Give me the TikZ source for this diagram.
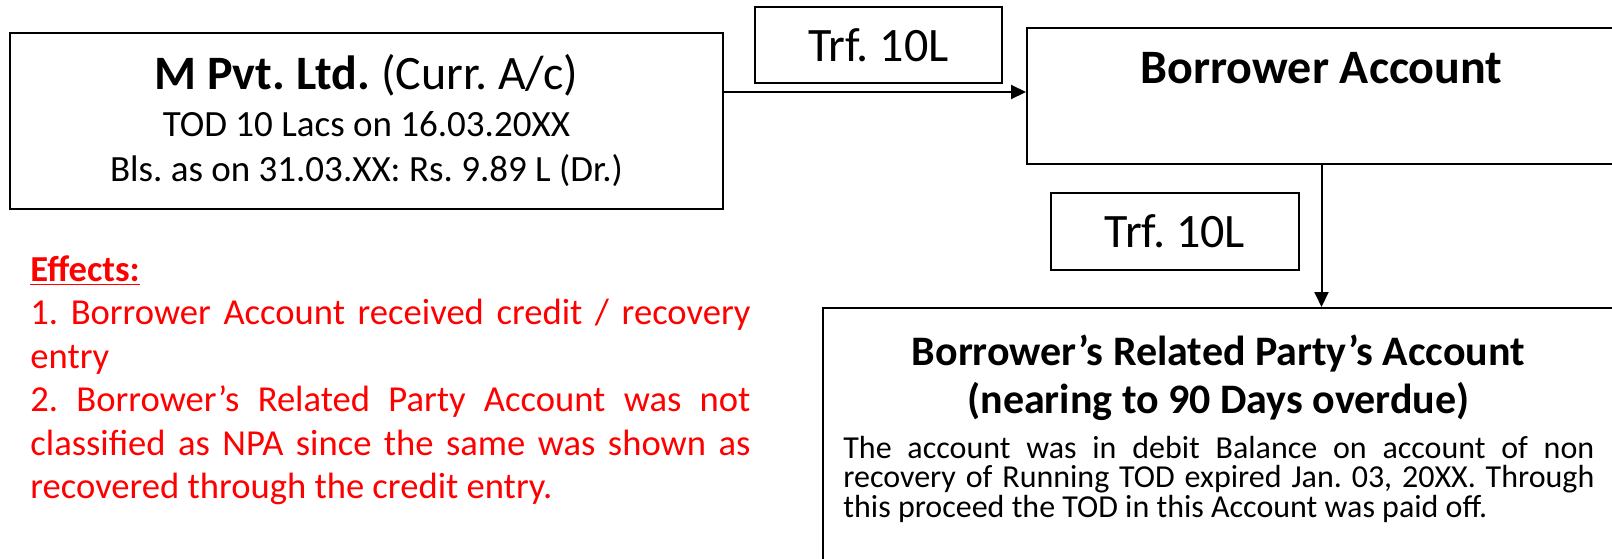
\documentclass[tikz,border=0pt]{standalone}
\usepackage{fontspec}
\setmainfont{Carlito}
\usetikzlibrary{arrows.meta}
\frenchspacing
\lineskiplimit=-10pt

\begin{document}
\begin{tikzpicture}[x=0.5pt,y=-0.5pt,
	box/.style={draw,line width=1pt,rectangle,inner sep=0pt},
	flow/.style={line width=1pt,-{Triangle[length=7.5pt,width=7pt]}},
	bodytxt/.style={font=\fontsize{18.5}{22.5}\selectfont},
	bigtxt/.style={font=\fontsize{24}{28}\selectfont}]
\clip (0,0) rectangle (1612,558);
\node[box,bodytxt,align=center,minimum width=356.5pt,minimum height=88pt] (mpvt) at (366.5,121)
	{{\fontsize{24}{28}\selectfont\textbf{M Pvt. Ltd.} (Curr. A/c)}\\[1pt] TOD 10 Lacs on 16.03.20XX\\ Bls. as on 31.03.XX: Rs. 9.89 L (Dr.)};
\node[box,bigtxt,minimum width=123.5pt,minimum height=38pt] (trfa) at (878.5,45) {Trf. 10L};
\node[box,minimum width=294.5pt,minimum height=68pt] (borrower) at (1321.5,96) {};
\node[bigtxt,anchor=base,inner sep=0pt] (borrowerttl) at (1321.5,83) {\bfseries Borrower Account};
\node[box,bigtxt,minimum width=124pt,minimum height=38.5pt] (trfb) at (1175,231.5) {Trf. 10L};
\node[box,minimum width=395.5pt,minimum height=166pt] (related) at (1218.5,474) {};
\node[anchor=base,inner sep=0pt,align=center,font=\fontsize{21}{24}\selectfont\bfseries] (relttl) at (1218.5,413)
	{Borrower’s Related Party’s Account\\ (nearing to 90 Days overdue)};
\node[anchor=base west,inner sep=0pt,text width=375.5pt,align=justify,font=\fontsize{16}{14.75}\selectfont] (reltxt) at (843,458)
	{The account was in debit Balance on account of non\linebreak recovery of Running TOD expired Jan. 03, 20XX. Through\linebreak this proceed the TOD in this Account was paid off.};
% transfers
\coordinate (tip) at ([yshift=2pt]borrower.west);
\draw[flow] (tip -| mpvt.east) -- (tip);
\draw[flow] (borrower.south) -- (borrower.south |- related.north);
\node[anchor=base west,inner sep=0pt,text width=360pt,align=justify,text=red,font=\fontsize{18.3}{21.75}\selectfont] (effects) at (30,281)
	{\underline{\textbf{Effects:}}\\ 1. Borrower Account received credit / recovery\linebreak entry\\ 2. Borrower’s Related Party Account was not\linebreak classified as NPA since the same was shown as\linebreak recovered through the credit entry.};
\end{tikzpicture}
\end{document}
